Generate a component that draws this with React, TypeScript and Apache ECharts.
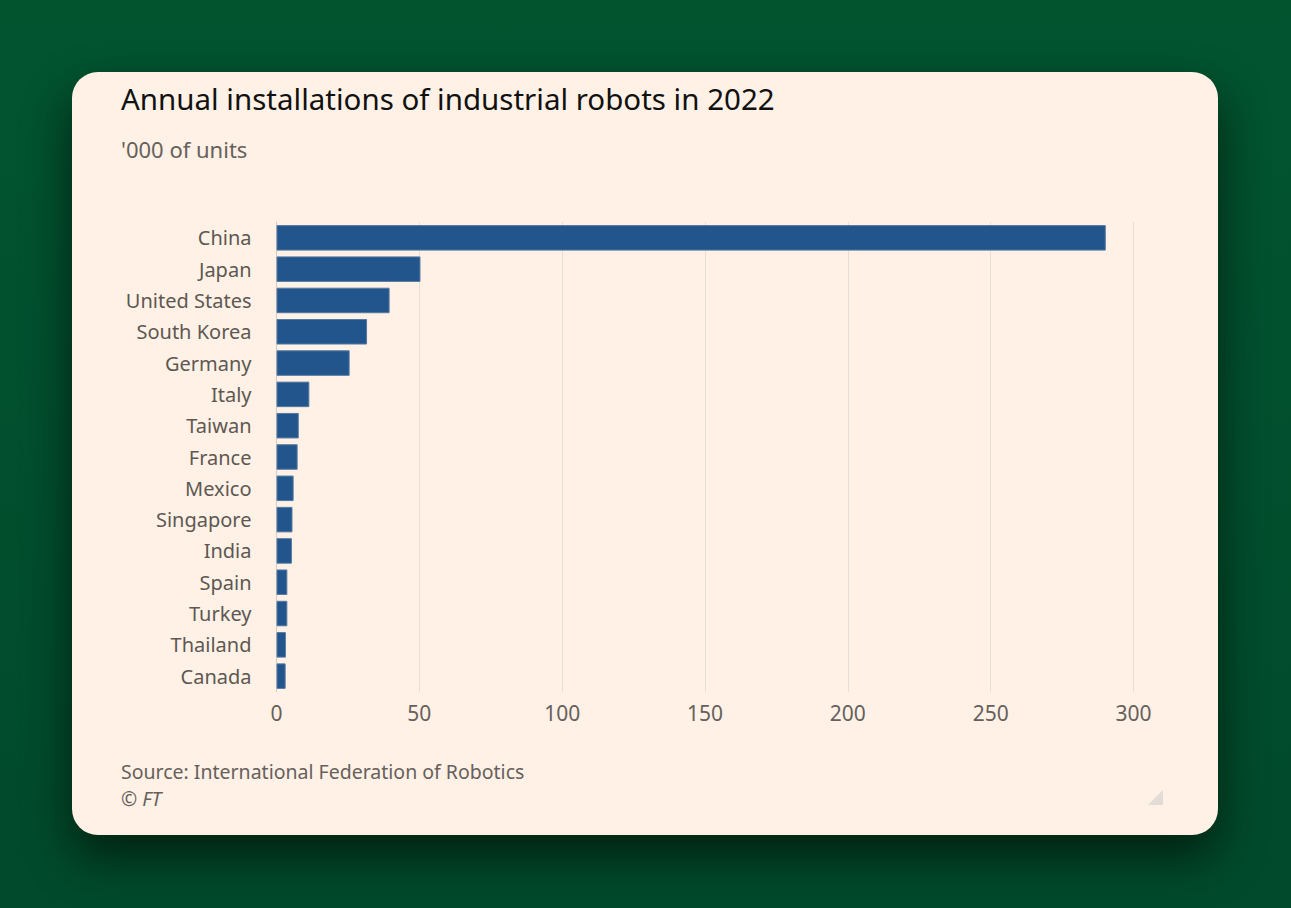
import React, { useEffect, useRef } from "react";
import * as echarts from "echarts";

const categories = [
  "China", "Japan", "United States", "South Korea", "Germany", "Italy", "Taiwan",
  "France", "Mexico", "Singapore", "India", "Spain", "Turkey", "Thailand", "Canada",
];
const installations = [290.3, 50.4, 39.6, 31.7, 25.6, 11.5, 7.8, 7.4, 6.0, 5.6, 5.4, 3.8, 3.8, 3.3, 3.2];
const xTicks = { min: 0, max: 300, interval: 50 };
const titleText = "Annual installations of industrial robots in 2022";
const subtitleText = "'000 of units";
const sourceText = "Source: International Federation of Robotics";
const creditText = "© FT";

const FONT = "'Noto Sans', sans-serif";

export default function App() {
  const ref = useRef<HTMLDivElement>(null);
  useEffect(() => {
    if (!ref.current) return;
    const chart = echarts.init(ref.current, undefined, { renderer: "svg" });
    chart.setOption({
      animation: false,
      textStyle: { fontFamily: FONT },
      grid: { left: 204.5, right: 84.5, top: 150.2, bottom: 143.2, containLabel: false },
      xAxis: {
        type: "value",
        min: xTicks.min,
        max: xTicks.max,
        interval: xTicks.interval,
        axisLine: { show: false },
        axisTick: { show: false },
        splitLine: { lineStyle: { color: "#e6dfd8", width: 1 } },
        axisLabel: { color: "#66605c", fontSize: 21, margin: 11, fontFamily: FONT },
      },
      yAxis: {
        type: "category",
        data: categories,
        inverse: true,
        axisLine: { lineStyle: { color: "#d4cbc3", width: 1 } },
        axisTick: { alignWithLabel: true, length: 17, lineStyle: { color: "#e0d8d0" } },
        axisLabel: { color: "#5d5853", fontSize: 20, margin: 25, fontFamily: FONT },
      },
      series: [
        {
          type: "bar",
          data: installations,
          barCategoryGap: "18.5%",
          itemStyle: { color: "#22558b", borderColor: "#5479a3", borderWidth: 1 },
        },
      ],
      graphic: [
        {
          type: "text",
          left: 49,
          top: 11,
          style: { text: titleText, fill: "#111111", font: `29.5px ${FONT}` },
        },
        {
          type: "text",
          left: 49,
          top: 66,
          style: { text: subtitleText, fill: "#66605c", font: `22px ${FONT}` },
        },
        {
          type: "text",
          left: 49,
          top: 689,
          style: { text: sourceText, fill: "#66605c", font: `19.5px ${FONT}` },
        },
        {
          type: "text",
          left: 49,
          top: 716,
          style: { text: creditText, fill: "#66605c", font: `italic 19.5px ${FONT}` },
        },
        {
          type: "polygon",
          shape: { points: [[1091, 733], [1091, 718], [1076, 733]] },
          style: { fill: "#e2dcd6" },
        },
      ],
    });
    return () => chart.dispose();
  }, []);

  return (
    <div
      style={{
        position: "absolute",
        left: 0,
        top: 0,
        width: 1291,
        height: 908,
        background: "linear-gradient(180deg, #02542f 0%, #014e2d 60%, #014a2b 100%)",
        overflow: "hidden",
      }}
    >
      <div
        style={{
          position: "absolute",
          left: 72,
          top: 72,
          width: 1146,
          height: 763,
          background: "#fff1e5",
          borderRadius: 26,
          boxShadow: "0 22px 45px rgba(0,20,10,0.75)",
          overflow: "hidden",
        }}
      >
        <div ref={ref} style={{ width: 1146, height: 763 }} />
      </div>
    </div>
  );
}
